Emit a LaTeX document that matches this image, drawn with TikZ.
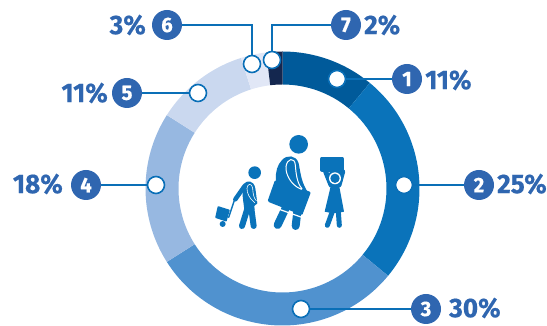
\documentclass[tikz,border=0pt]{standalone}
\usepackage{fontspec}
\setmainfont{Fira Sans}[FakeStretch=0.97,BoldFeatures={FakeBold=0.5}]
\definecolor{lb}{HTML}{2F66B0}
\definecolor{ln}{HTML}{0A6FB7}
\definecolor{s1}{HTML}{005A9A}
\definecolor{s2}{HTML}{0A73BA}
\definecolor{s3}{HTML}{5092CF}
\definecolor{s4}{HTML}{97B8E1}
\definecolor{s5}{HTML}{CAD8EF}
\definecolor{s6}{HTML}{E1E7F6}
\definecolor{s7}{HTML}{14274F}
\tikzset{
 mark node/.style={circle,draw=ln,line width=1.6pt,fill=white,minimum size=17pt,inner sep=0pt},
 num node/.style={circle,fill=lb,text=white,minimum size=30pt,inner sep=0pt,font=\bfseries\fontsize{21}{21}\selectfont},
 pct node/.style={text=lb,inner sep=0pt,font=\bfseries\fontsize{27}{27}\selectfont},
 lead/.style={draw=ln,line width=1.6pt},
 limb/.style={draw=s2,line cap=round,line join=round},
 whiteline/.style={draw=white,line cap=round,line join=round},
 solid part/.style={fill=s2,draw=s2,line join=round}
}
\begin{document}
\begin{tikzpicture}[x=1pt,y=1pt]
\useasboundingbox (0,0) rectangle (547,326);
\begin{scope}[shift={(282.5,137.5)}]
\newcommand{\segb}[3]{\fill[#3] (#1:137) arc[start angle=#1,end angle=#2,radius=137] -- (#2:104) arc[start angle=#2,end angle=#1,radius=104] -- cycle;}
\segb{50.4}{90}{s1}
\segb{-39.6}{50.4}{s2}
\segb{-147.6}{-39.6}{s3}
\segb{-212.4}{-147.6}{s4}
\segb{107.6}{147.6}{s5}
\segb{96.8}{107.6}{s6}
\segb{90}{96.8}{s7}
\end{scope}
% big figure
\begin{scope}[cm={0.3333,0,0,-0.3333,(262,196)}]
\fill[s2] (110,43) circle (28);
\draw[limb,line width=8pt] (72,232) -- (47,285);
\draw[limb,line width=8pt] (106,245) -- (101,288);
\fill[s2] (60,90) .. controls (75,74) and (102,74) .. (110,100) .. controls (116,130) and (118,160) .. (140,190) -- (110,215) -- (60,190) -- (42,150) .. controls (40,125) and (46,105) .. (60,90) -- cycle;
\draw[whiteline,line width=1.2pt] (18,226) -- (125,264);
\path[solid part,line width=3pt] (42,155) -- (141,189) -- (118,250) -- (22,212) -- cycle;
\draw[whiteline,line width=1pt] (118,178) .. controls (85,165) and (70,130) .. (72,110) .. controls (75,85) and (98,80) .. (100,105) .. controls (102,130) and (105,160) .. (120,176);
\end{scope}
% small figure
\begin{scope}[cm={0.3333,0,0,-0.3333,(212,166)}]
\fill[s2] (128,38) circle (19);
\draw[limb,line width=6pt] (108,140) -- (90,198);
\draw[limb,line width=6pt] (118,145) -- (125,198);
\draw[limb,line width=4.5pt] (98,78) -- (70,118);
\draw[limb,line width=1.4pt] (69,115) -- (50,172);
\fill[s2] (95,72) .. controls (105,60) and (125,60) .. (130,85) .. controls (132,100) and (134,115) .. (136,130) -- (127,138) -- (127,150) -- (97,150) .. controls (94,120) and (88,100) .. (95,72) -- cycle;
\path[solid part,line width=1.5pt] (19,141) -- (51,151) -- (42,182) -- (12,172) -- cycle;
\fill[s2] (32,192) circle (9);
\draw[whiteline,line width=.6pt] (128,128) .. controls (112,115) and (105,100) .. (105,85) .. controls (106,70) and (120,68) .. (122,85) .. controls (123,100) and (125,115) .. (133,122);
\end{scope}
% girl
\begin{scope}[cm={0.3333,0,0,-0.3333,(315,176)}]
\path[solid part,line width=4pt] (21,26) -- (81,26) -- (81,59) -- (21,59) -- cycle;
\draw[limb,line width=5pt] (32,65) -- (48,105);
\draw[limb,line width=5pt] (83,65) -- (72,105);
\fill[s2] (60,85) circle (24);
\fill[white] (60,85) circle (18);
\fill[s2] (60,85) circle (14);
\fill[s2] (48,105) -- (72,105) -- (87,185) .. controls (70,190) and (45,190) .. (29,185) -- cycle;
\draw[limb,line width=5pt] (52,185) -- (37,226);
\draw[limb,line width=5pt] (70,185) -- (73,226);
\end{scope}
\node[num node] (n1) at (407,247) {1};
\node[num node] (n2) at (479,141) {2};
\node[num node] (n3) at (426,17) {3};
\node[num node] (n4) at (86,141) {4};
\node[num node] (n5) at (127,233) {5};
\node[num node] (n6) at (167,301) {6};
\node[num node] (n7) at (346,301) {7};
\node[mark node] (m1) at (337,247) {};
\node[mark node] (m2) at (404,141) {};
\node[mark node] (m3) at (301,17) {};
\node[mark node] (m4) at (156,141) {};
\node[mark node] (m5) at (198,233) {};
\node[mark node] (m6) at (252,262) {};
\node[mark node] (m7) at (272,266) {};
\draw[lead] (m1) -- (n1);
\draw[lead] (m2) -- (n2);
\draw[lead] (m3) -- (n3);
\draw[lead] (m4) -- (n4);
\draw[lead] (m5) -- (n5);
\draw[lead] (m6) |- (n6);
\draw[lead] (m7) |- (n7);
\node[pct node,anchor=west] (t1) at (425,246) {11\%};
\node[pct node,anchor=west] (t2) at (497,142) {25\%};
\node[pct node,anchor=west] (t3) at (449,18) {30\%};
\node[pct node,anchor=east] (t4) at (63,142) {18\%};
\node[pct node,anchor=east] (t5) at (108,233) {11\%};
\node[pct node,anchor=east] (t6) at (146,301) {3\%};
\node[pct node,anchor=west] (t7) at (364,301) {2\%};
\end{tikzpicture}
\end{document}
